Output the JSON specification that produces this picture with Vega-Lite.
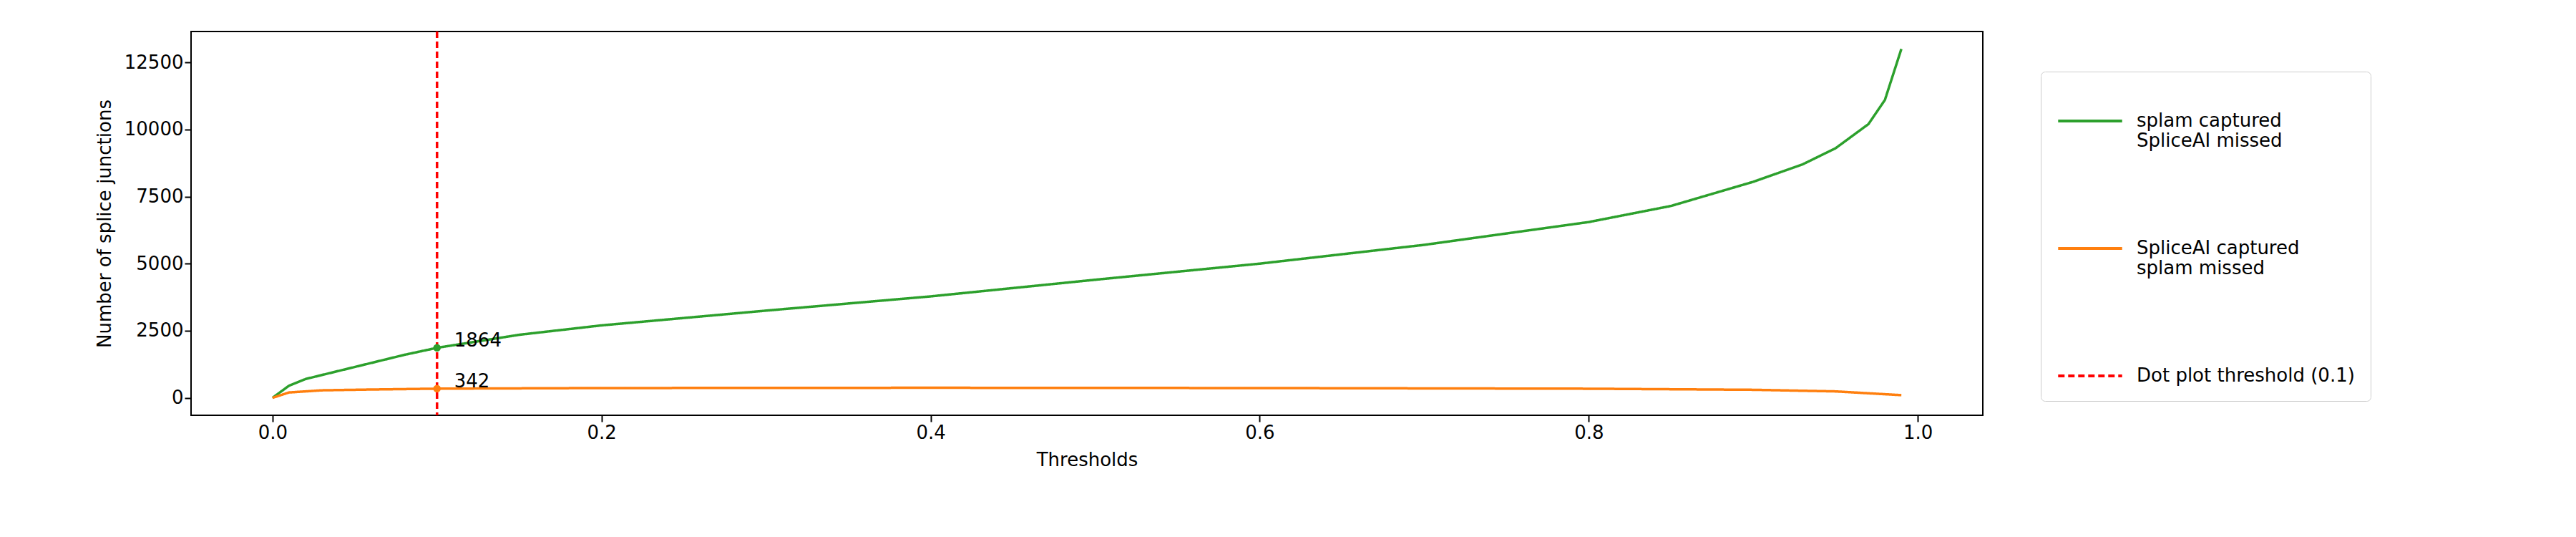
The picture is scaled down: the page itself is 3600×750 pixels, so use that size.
{
  "$schema": "https://vega.github.io/schema/vega-lite/v6.json",
  "width": 2504,
  "height": 536,
  "autosize": "none",
  "padding": {"left": 267, "top": 44, "right": 829, "bottom": 170},
  "background": "white",
  "config": {
    "font": "DejaVu Sans",
    "view": {"stroke": "black", "strokeWidth": 2},
    "axis": {"labelFontSize": 26, "titleFontSize": 26, "titleFontWeight": "normal", "labelColor": "black", "titleColor": "black", "domain": false, "tickColor": "black", "tickSize": 9, "tickWidth": 2, "grid": false}
  },
  "datasets": {
    "curves": [
      {"t": 0.0, "v": 0, "series": "splam captured|SpliceAI missed"},
      {"t": 0.01, "v": 450, "series": "splam captured|SpliceAI missed"},
      {"t": 0.02, "v": 700, "series": "splam captured|SpliceAI missed"},
      {"t": 0.04, "v": 1000, "series": "splam captured|SpliceAI missed"},
      {"t": 0.06, "v": 1300, "series": "splam captured|SpliceAI missed"},
      {"t": 0.08, "v": 1600, "series": "splam captured|SpliceAI missed"},
      {"t": 0.1, "v": 1864, "series": "splam captured|SpliceAI missed"},
      {"t": 0.15, "v": 2350, "series": "splam captured|SpliceAI missed"},
      {"t": 0.2, "v": 2700, "series": "splam captured|SpliceAI missed"},
      {"t": 0.3, "v": 3250, "series": "splam captured|SpliceAI missed"},
      {"t": 0.4, "v": 3780, "series": "splam captured|SpliceAI missed"},
      {"t": 0.5, "v": 4400, "series": "splam captured|SpliceAI missed"},
      {"t": 0.6, "v": 5000, "series": "splam captured|SpliceAI missed"},
      {"t": 0.7, "v": 5700, "series": "splam captured|SpliceAI missed"},
      {"t": 0.8, "v": 6550, "series": "splam captured|SpliceAI missed"},
      {"t": 0.85, "v": 7150, "series": "splam captured|SpliceAI missed"},
      {"t": 0.9, "v": 8050, "series": "splam captured|SpliceAI missed"},
      {"t": 0.93, "v": 8700, "series": "splam captured|SpliceAI missed"},
      {"t": 0.95, "v": 9300, "series": "splam captured|SpliceAI missed"},
      {"t": 0.97, "v": 10200, "series": "splam captured|SpliceAI missed"},
      {"t": 0.98, "v": 11100, "series": "splam captured|SpliceAI missed"},
      {"t": 0.99, "v": 13000, "series": "splam captured|SpliceAI missed"},
      {"t": 0.0, "v": 0, "series": "SpliceAI captured|splam missed"},
      {"t": 0.01, "v": 200, "series": "SpliceAI captured|splam missed"},
      {"t": 0.03, "v": 280, "series": "SpliceAI captured|splam missed"},
      {"t": 0.06, "v": 310, "series": "SpliceAI captured|splam missed"},
      {"t": 0.1, "v": 342, "series": "SpliceAI captured|splam missed"},
      {"t": 0.2, "v": 365, "series": "SpliceAI captured|splam missed"},
      {"t": 0.4, "v": 375, "series": "SpliceAI captured|splam missed"},
      {"t": 0.6, "v": 365, "series": "SpliceAI captured|splam missed"},
      {"t": 0.8, "v": 340, "series": "SpliceAI captured|splam missed"},
      {"t": 0.9, "v": 300, "series": "SpliceAI captured|splam missed"},
      {"t": 0.95, "v": 240, "series": "SpliceAI captured|splam missed"},
      {"t": 0.99, "v": 100, "series": "SpliceAI captured|splam missed"}
    ],
    "marks": [
      {"t": 0.1, "v": 1864, "label": "1864", "series": "splam captured|SpliceAI missed"},
      {"t": 0.1, "v": 342, "label": "342", "series": "SpliceAI captured|splam missed"}
    ],
    "threshold": [{"t": 0.1, "series": "Dot plot threshold (0.1)"}]
  },
  "encoding": {
    "x": {"field": "t", "type": "quantitative", "title": "Thresholds", "scale": {"domain": [-0.0495, 1.0395], "nice": false, "zero": false}, "axis": {"values": [0, 0.2, 0.4, 0.6, 0.8, 1.0], "format": ".1f", "titlePadding": 12}}
  },
  "layer": [
    {
      "data": {"name": "curves"},
      "mark": {"type": "line", "strokeWidth": 3.5},
      "encoding": {
        "y": {"field": "v", "type": "quantitative", "title": "Number of splice junctions", "scale": {"domain": [-650, 13650], "nice": false}, "axis": {"values": [0, 2500, 5000, 7500, 10000, 12500], "format": "d", "titlePadding": 14}},
        "color": {"field": "series", "type": "nominal", "scale": {"domain": ["splam captured|SpliceAI missed", "SpliceAI captured|splam missed", "Dot plot threshold (0.1)"], "range": ["#2ca02c", "#ff7f0e", "#ff0000"]},
          "legend": {"title": null, "orient": "none", "legendX": 2585, "legendY": 56, "symbolType": "stroke", "symbolSize": 8000, "symbolStrokeWidth": 4, "labelFontSize": 26, "labelLimit": 600, "rowPadding": 90, "padding": 22, "strokeColor": "#cccccc", "cornerRadius": 6, "labelExpr": "split(datum.label, '|')", "labelOffset": 18}},
        "strokeDash": {"field": "series", "type": "nominal", "scale": {"domain": ["splam captured|SpliceAI missed", "SpliceAI captured|splam missed", "Dot plot threshold (0.1)"], "range": [[1, 0], [1, 0], [9, 5]]}}
      }
    },
    {
      "data": {"name": "threshold"},
      "mark": {"type": "rule", "strokeWidth": 3.5},
      "encoding": {
        "color": {"field": "series", "type": "nominal"},
        "strokeDash": {"field": "series", "type": "nominal"}
      }
    },
    {
      "data": {"name": "marks"},
      "mark": {"type": "circle", "size": 110, "opacity": 1},
      "encoding": {
        "y": {"field": "v", "type": "quantitative"},
        "color": {"field": "series", "type": "nominal"}
      }
    },
    {
      "data": {"name": "marks"},
      "mark": {"type": "text", "align": "left", "dx": 24, "dy": -10, "fontSize": 26, "color": "black"},
      "encoding": {
        "y": {"field": "v", "type": "quantitative"},
        "text": {"field": "label"}
      }
    }
  ]
}
